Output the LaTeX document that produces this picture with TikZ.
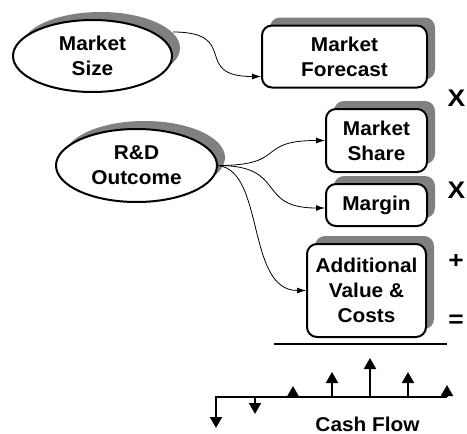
\documentclass[tikz,border=0pt]{standalone}
\usepackage{fontspec}
\newfontfamily\lblfont[FakeStretch=1.04]{Liberation Sans}
\newfontfamily\opfont[FakeStretch=1.1]{Liberation Sans}
\usetikzlibrary{shapes.geometric,shadows,arrows.meta}
\tikzset{
  lbl/.style={font={\lblfont\bfseries\fontsize{20pt}{25pt}\selectfont}, align=center},
  shad/.style={drop shadow={shadow xshift=8pt, shadow yshift=8pt, fill=gray, opacity=1}},
  boxnode/.style={lbl, draw=black, line width=2pt, rounded corners=10pt, fill=white, shad, inner sep=0pt},
  ellnode/.style={lbl, ellipse, draw=black, line width=2pt, fill=white, shad, inner sep=0pt},
  conn/.style={line width=0.8pt, -{Latex[length=9pt,width=6pt]}},
  flow/.style={line width=2pt, -{Triangle[length=11pt,width=12pt]}},
  op/.style={font={\opfont\bfseries\fontsize{24pt}{25pt}\selectfont}, inner sep=0pt}
}
\begin{document}
\begin{tikzpicture}[x=1pt,y=-1pt]
\useasboundingbox (0,0) rectangle (467,434);
\clip (0,0) rectangle (467,434);
% ellipses
\node[ellnode, minimum width=159pt, minimum height=72pt] (ms) at (92.5,56) {Market\\Size};
\node[ellnode, minimum width=161pt, minimum height=73pt] (rd) at (136.5,165.5) {R\&D\\Outcome};
% boxes
\node[boxnode, minimum width=165pt, minimum height=62pt] (fc) at (344.5,56.5) {Market\\Forecast};
\node[boxnode, minimum width=101pt, minimum height=63pt] (share) at (376.5,140.5) {Market\\Share};
\node[boxnode, minimum width=101pt, minimum height=42pt] (margin) at (376.5,205) {Margin};
\node[boxnode, minimum width=119pt, minimum height=93pt] (addl) at (366.5,290.5) {Additional\\Value \&\\Costs};
% connectors
\draw[conn] ([yshift=24pt]ms.east) .. controls +(68,0) and +(-70,0) .. ([yshift=-20pt]fc.west);
\draw[conn] (rd.east) .. controls +(70,0) and +(-70,0) .. (share.west);
\draw[conn] (rd.east) .. controls +(70,0) and +(-70,0) .. ([yshift=-3pt]margin.west);
\draw[conn] (rd.east) .. controls +(47,5) and +(-60,0) .. (addl.west);
% operators
\node[op] (x1) at (456.5,98.5) {X};
\node[op] (x2) at (456.5,190.5) {X};
\node[op] (plus) at (456,261) {+};
\node[op] (eq) at (456,321) {=};
% result line
\draw[line width=2pt] (274,344) -- (447,344);
% cash flow
\draw[flow, line join=miter] (447,397) -- (216,397) -- (216,428);
\draw[flow] (255,397) -- (255,414);
\draw[flow] (293,397) -- (293,386);
\draw[flow] (332,397) -- (332,372);
\draw[flow] (370,397) -- (370,358);
\draw[flow] (408,397) -- (408,372);
\draw[flow] (447,397) -- (447,385);
\node[lbl, anchor=base] (cf) at (367.5,431) {Cash Flow};
\end{tikzpicture}
\end{document}
